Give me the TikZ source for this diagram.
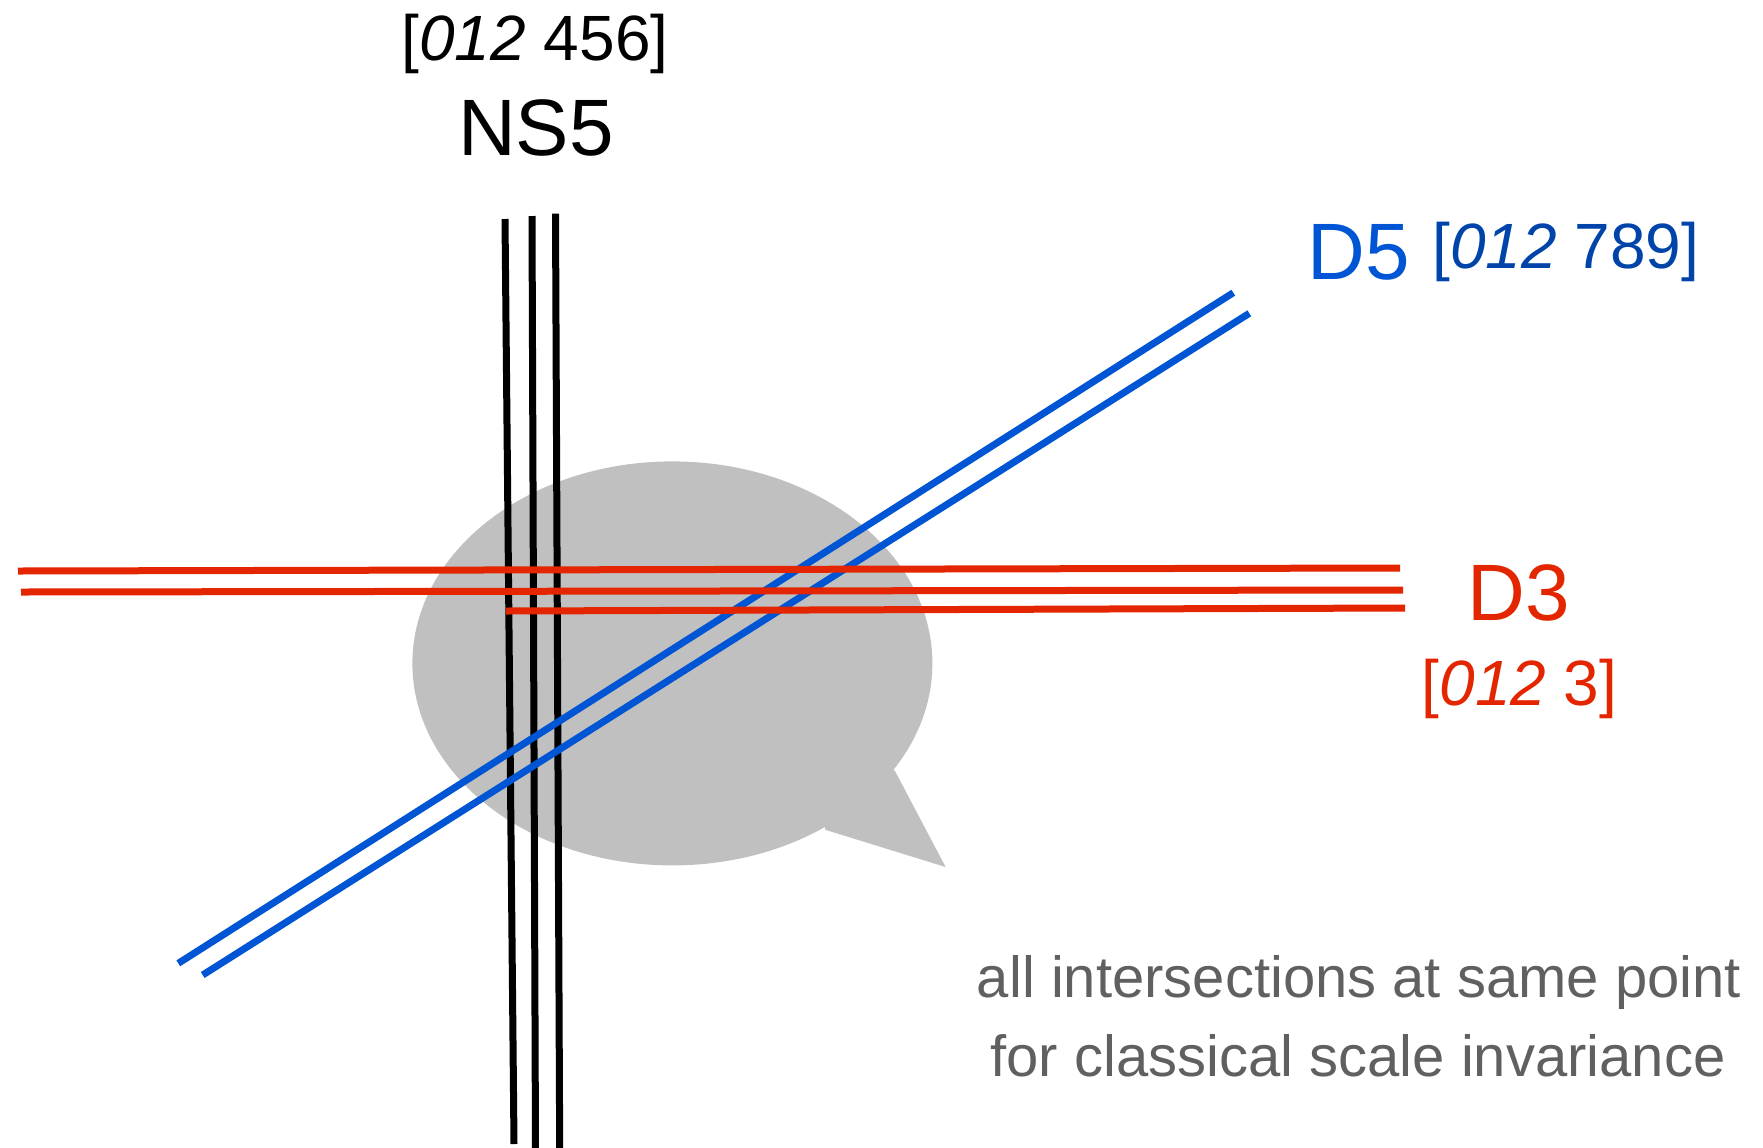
\documentclass[tikz,border=0pt]{standalone}
\usepackage{fontspec}
\setmainfont{Liberation Sans}
\definecolor{dblue}{RGB}{0,85,212}
\definecolor{dbluetxt}{RGB}{0,68,170}
\definecolor{dred}{RGB}{227,38,0}
\definecolor{bubblegray}{RGB}{192,192,192}
\definecolor{txtgray}{RGB}{96,96,96}
\begin{document}
\begin{tikzpicture}[x=0.5pt,y=-0.5pt,
  brane/.style={line width=3.5pt,line cap=butt},
  bigtxt/.style={inner sep=0pt,anchor=base,font=\fontsize{40}{48}\selectfont},
  dimtxt/.style={inner sep=0pt,anchor=base,font=\fontsize{32}{38}\selectfont},
  notetxt/.style={inner sep=0pt,anchor=base,text=txtgray,font=\fontsize{29}{35}\selectfont}]
\useasboundingbox (0,0) rectangle (1763,1147);
% speech bubble
\fill[bubblegray] (672.4,663.4) ellipse [x radius=260, y radius=202];
\fill[bubblegray] (895,771) -- (945.6,867) -- (825.3,829.8) -- (800,700) -- cycle;
% NS5 lines
\coordinate (n1a) at (505,219);   \coordinate (n1b) at (514,1144);
\coordinate (n2a) at (532,216);   \coordinate (n2b) at (535.5,1150);
\coordinate (n3a) at (555.5,213.6); \coordinate (n3b) at (559.7,1150);
\draw[brane,black] (n1a) -- (n1b);
\draw[brane,black] (n2a) -- (n2b);
\draw[brane,black] (n3a) -- (n3b);
% D5 lines
\coordinate (b1a) at (178.3,963.3); \coordinate (b1b) at (1233.3,292.7);
\coordinate (b2a) at (202.7,975);   \coordinate (b2b) at (1249.3,313.3);
\draw[brane,dblue] (b1a) -- (b1b);
\draw[brane,dblue] (b2a) -- (b2b);
% D3 lines
\coordinate (r1a) at (18,571);  \coordinate (r1b) at (1400,568);
\coordinate (r2a) at (21,592);  \coordinate (r2b) at (1403,590);
\coordinate (r3a) at (506,611); \coordinate (r3b) at (1405,608);
\draw[brane,dred] (r1a) -- (r1b);
\draw[brane,dred] (r2a) -- (r2b);
\draw[brane,dred] (r3a) -- (r3b);
% labels
\node[dimtxt] (nsdim) at (535,60) {[\textit{012} 456]};
\node[bigtxt] (nslab) at (536,155) {NS5};
\node[bigtxt,anchor=base west,text=dblue] (d5lab) at (1307,279) {D5};
\node[dimtxt,anchor=base west,text=dbluetxt] (d5dim) at (1432,268) {[\textit{012} 789]};
\node[bigtxt,text=dred] (d3lab) at (1519,620) {D3};
\node[dimtxt,text=dred] (d3dim) at (1519.5,705) {[\textit{012} 3]};
\node[notetxt] (note1) at (1359,997) {all intersections at same point};
\node[notetxt] (note2) at (1358,1076) {for classical scale invariance};
\end{tikzpicture}
\end{document}
